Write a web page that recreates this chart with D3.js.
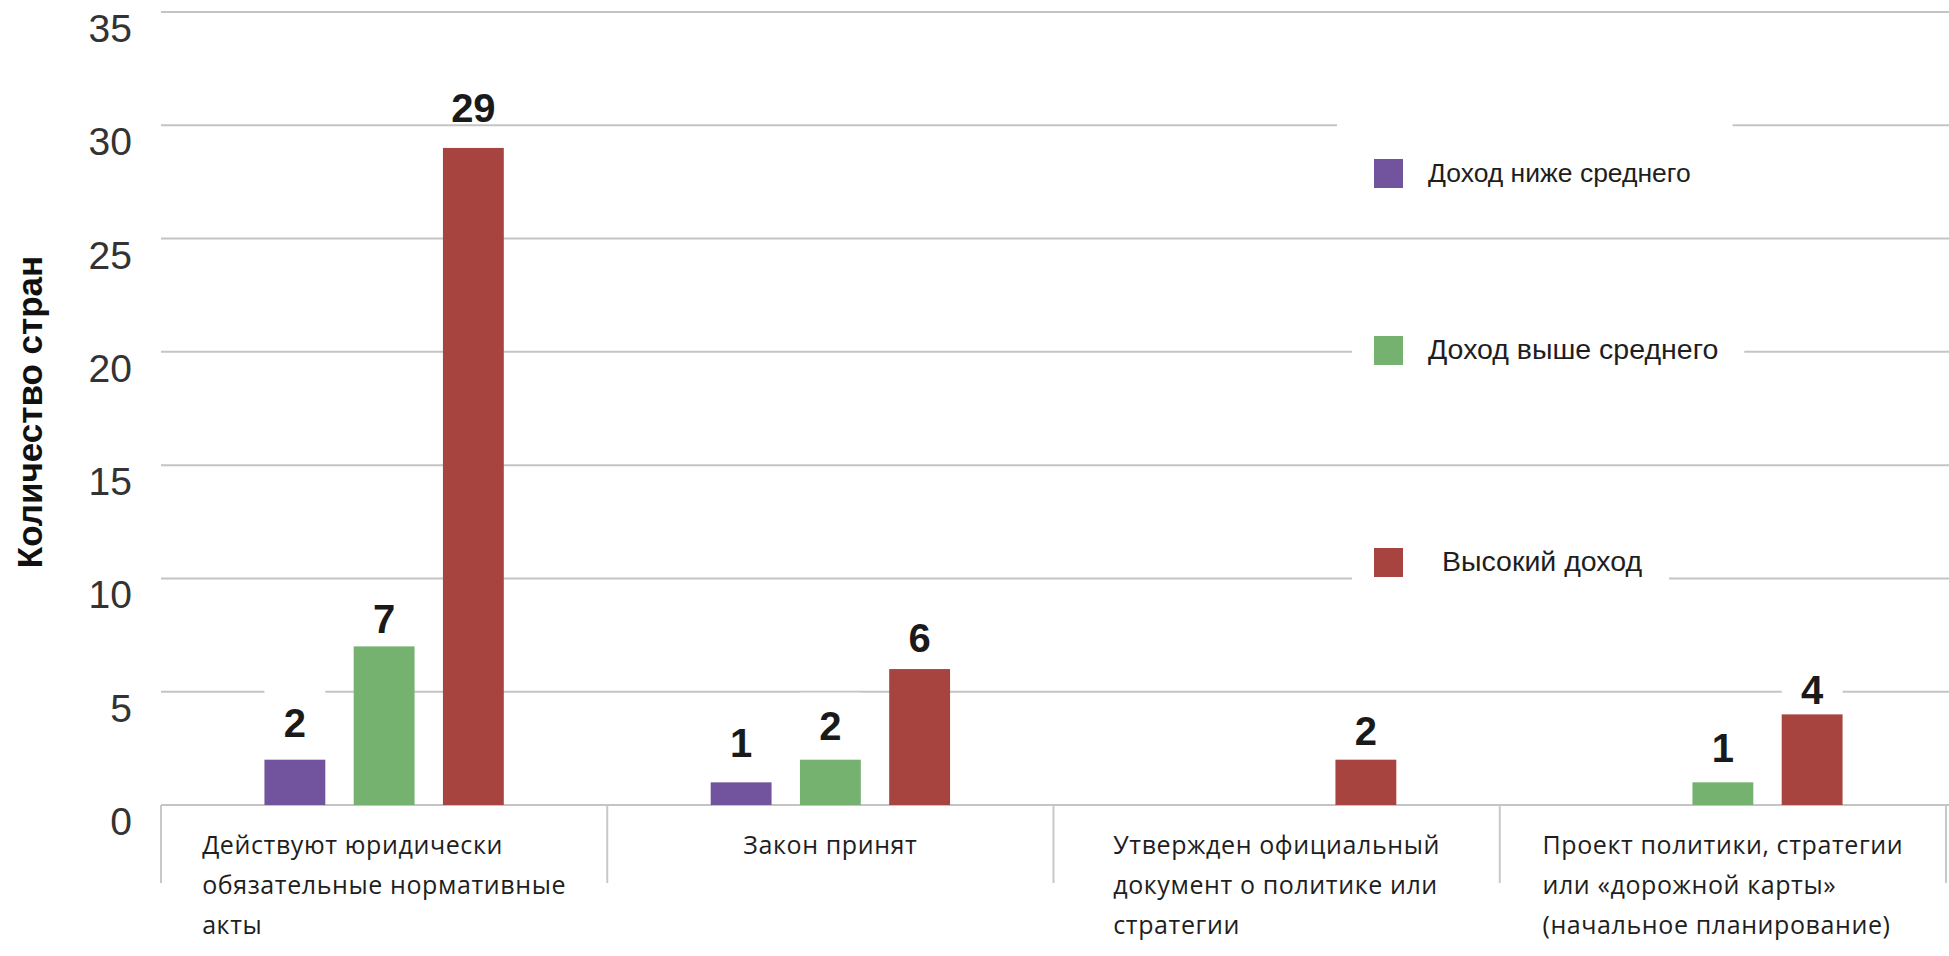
<!DOCTYPE html>
<html>
<head>
<meta charset="utf-8">
<script src="https://cdn.jsdelivr.net/npm/d3@7"></script>
<style>
  html, body { margin: 0; padding: 0; background: #fff; }
  svg { display: block; }
</style>
</head>
<body>
<svg id="chart" width="1949" height="956"></svg>
<script>
// ---- data ----
const categories = [
  ["Действуют юридически", "обязательные нормативные", "акты"],
  ["Закон принят"],
  ["Утвержден официальный", "документ о политике или", "стратегии"],
  ["Проект политики, стратегии", "или «дорожной карты»", "(начальное планирование)"]
];
const categoryKeys = ["c1", "c2", "c3", "c4"];
const seriesNames = ["Доход ниже среднего", "Доход выше среднего", "Высокий доход"];
const lowerMiddle = [2, 1, 0, 0];
const upperMiddle = [7, 2, 0, 1];
const highIncome = [29, 6, 2, 4];
const yTicks = [0, 5, 10, 15, 20, 25, 30, 35];
const yTitle = "Количество стран";
const colors = ["#72539e", "#75b270", "#a8443f"];

const seriesValues = [lowerMiddle, upperMiddle, highIncome];

// ---- layout (styling, not data) ----
// how far each value label sits above its bar, per series × category
const labelLift = [[23, 25, 0, 0], [13, 20, 0, 20], [26, 17, 15, 10]];
const legendY = [173, 350, 562];
const legendFont = [26.5, 28.5, 28.5];
const legendTextDx = [0, 0, 14];
const legendBox = [[1337, 42], [1352, 26], [1352, 27]];

const svg = d3.select("#chart");
const plotLeft = 161, plotRight = 1946, plotTop = 12, plotBottom = 805;

const y = d3.scaleLinear().domain([0, 35]).range([plotBottom, plotTop]);
const x0 = d3.scaleBand().domain(categoryKeys).range([plotLeft, plotRight]).padding(0);
const bw = x0.bandwidth();
const x1 = d3.scaleBand().domain(d3.range(seriesNames.length))
  .range([0.2 * bw, 0.8 * bw]).paddingInner(0.318).paddingOuter(0.159);

// gridlines
svg.append("g").selectAll("line").data(yTicks).join("line")
  .attr("x1", plotLeft).attr("x2", 1949)
  .attr("y1", d => y(d)).attr("y2", d => y(d))
  .attr("stroke", "#c4c4c4").attr("stroke-width", 2);

// y tick labels
svg.append("g").selectAll("text").data(yTicks).join("text")
  .attr("x", 132).attr("y", d => y(d) + 30)
  .attr("text-anchor", "end")
  .attr("font-family", "Liberation Sans, Arial, sans-serif")
  .attr("font-size", 39).attr("fill", "#333")
  .text(d => d);

// category dividers
const bounds = categoryKeys.map(k => x0(k)).concat([plotRight]);
svg.append("g").selectAll("line").data(bounds).join("line")
  .attr("x1", d => d).attr("x2", d => d)
  .attr("y1", plotBottom).attr("y2", 883)
  .attr("stroke", "#c8c8c8").attr("stroke-width", 2);

// legend backgrounds + items
const lg = svg.append("g");
seriesNames.forEach((name, i) => {
  const g = lg.append("g");
  const bg = g.append("rect").attr("fill", "#fff");
  g.append("rect")
    .attr("x", 1374).attr("y", legendY[i] - 14)
    .attr("width", 29).attr("height", 29)
    .attr("fill", colors[i]);
  const t = g.append("text")
    .attr("x", 1428 + legendTextDx[i]).attr("y", legendY[i] + 9)
    .attr("font-family", "Liberation Sans, Arial, sans-serif")
    .attr("font-size", legendFont[i]).attr("fill", "#1e1e1e")
    .text(name);
  const w = t.node().getComputedTextLength();
  const bx = legendBox[i][0];
  bg.attr("x", bx).attr("y", legendY[i] - 55)
    .attr("width", 1428 + legendTextDx[i] + w + legendBox[i][1] - bx)
    .attr("height", 78);
});

// bars
const flat = [];
categoryKeys.forEach((k, ci) => {
  seriesValues.forEach((vals, si) => {
    if (vals[ci] > 0) flat.push({ k, ci, si, v: vals[ci] });
  });
});

const barG = svg.append("g");
barG.selectAll("rect").data(flat).join("rect")
  .attr("x", d => x0(d.k) + x1(d.si))
  .attr("y", d => y(d.v))
  .attr("width", x1.bandwidth())
  .attr("height", d => y(0) - y(d.v))
  .attr("fill", d => colors[d.si]);

// value labels with white backing
const lblG = svg.append("g");
flat.forEach(d => {
  const cx = x0(d.k) + x1(d.si) + x1.bandwidth() / 2;
  const base = y(d.v) - labelLift[d.si][d.ci];
  lblG.append("rect")
    .attr("x", x0(d.k) + x1(d.si)).attr("y", base - 47)
    .attr("width", x1.bandwidth()).attr("height", 48)
    .attr("fill", "#fff");
  lblG.append("text")
    .attr("x", cx).attr("y", base)
    .attr("text-anchor", "middle")
    .attr("font-family", "Liberation Sans, Arial, sans-serif")
    .attr("font-weight", "bold")
    .attr("font-size", 40).attr("fill", "#1a1a1a")
    .text(d.v);
});

// category labels (left-aligned block centred in band)
const catG = svg.append("g");
categoryKeys.forEach((k, ci) => {
  const t = catG.append("text")
    .attr("font-family", "'Open Sans', 'Liberation Sans', sans-serif")
    .attr("font-size", 25).attr("letter-spacing", 0.6).attr("fill", "#1e1e1e");
  categories[ci].forEach((line, li) => {
    t.append("tspan").attr("y", 854 + li * 40).text(line);
  });
  let maxW = 0;
  t.selectAll("tspan").each(function () {
    maxW = Math.max(maxW, this.getComputedTextLength());
  });
  const cx = x0(k) + bw / 2;
  t.selectAll("tspan").attr("x", cx - maxW / 2);
});

// y axis title
svg.append("text")
  .attr("transform", "translate(42,412) rotate(-90)")
  .attr("text-anchor", "middle")
  .attr("font-family", "Liberation Sans, Arial, sans-serif")
  .attr("font-weight", "bold")
  .attr("font-size", 35).attr("fill", "#111")
  .text(yTitle);
</script>
</body>
</html>
